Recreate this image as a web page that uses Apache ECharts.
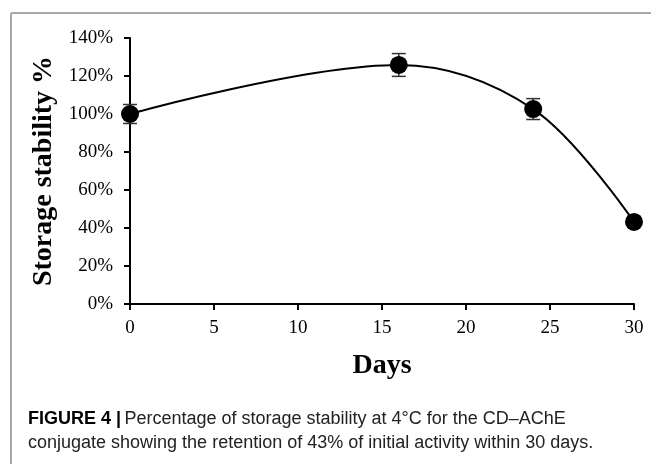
<!DOCTYPE html>
<html>
<head>
<meta charset="utf-8">
<script src="https://cdn.jsdelivr.net/npm/echarts@6/dist/echarts.min.js"></script>
<style>html,body{margin:0;padding:0;background:#fff;}#c{width:651px;height:464px;}</style>
</head>
<body>
<div id="c"></div>
<script>
var days = [0, 16, 24, 30];
var stability = [100, 125.8, 102.6, 43.2];
var errors = [5, 6, 5.5, 1];
var xTicks = [0, 5, 10, 15, 20, 25, 30];
var yTicks = [0, 20, 40, 60, 80, 100, 120, 140];
var xTitle = 'Days';
var yTitle = 'Storage stability %';
var captionBold = 'FIGURE 4 |';
var captionLine1 = 'Percentage of storage stability at 4°C for the CD–AChE';
var captionLine2 = 'conjugate showing the retention of 43% of initial activity within 30 days.';

var chart = echarts.init(document.getElementById('c'), null, {renderer: 'canvas'});
var lineData = days.map(function (d, i) { return [d, stability[i]]; });
var errData = days.map(function (d, i) { return [d, stability[i] - errors[i], stability[i] + errors[i]]; });
var serif = 'Liberation Serif';

chart.setOption({
  animation: false,
  backgroundColor: '#fff',
  grid: {left: 130, right: 17, top: 38, bottom: 160, containLabel: false},
  xAxis: {
    type: 'value', min: xTicks[0], max: xTicks[xTicks.length - 1], interval: 5,
    name: xTitle, nameLocation: 'middle', nameGap: 48,
    nameTextStyle: {fontFamily: serif, fontWeight: 'bold', fontSize: 28, color: '#000'},
    axisLine: {show: true, onZero: false, lineStyle: {color: '#000', width: 2}},
    axisTick: {show: true, inside: false, length: 6, lineStyle: {color: '#000', width: 2}},
    axisLabel: {fontFamily: serif, fontSize: 19, color: '#000', margin: 15},
    splitLine: {show: false}
  },
  yAxis: {
    type: 'value', min: yTicks[0], max: yTicks[yTicks.length - 1], interval: 20,
    name: yTitle, nameLocation: 'middle', nameGap: 69, nameRotate: 90,
    nameTextStyle: {fontFamily: serif, fontWeight: 'bold', fontSize: 28, color: '#000'},
    axisLine: {show: true, onZero: false, lineStyle: {color: '#000', width: 2}},
    axisTick: {show: true, inside: false, length: 6, lineStyle: {color: '#000', width: 2}},
    axisLabel: {fontFamily: serif, fontSize: 19, color: '#000', margin: 17, formatter: '{value}%'},
    splitLine: {show: false}
  },
  series: [
    {
      type: 'custom',
      data: errData,
      z: 1,
      renderItem: function (params, api) {
        var x = api.value(0);
        var lo = api.coord([x, api.value(1)]);
        var hi = api.coord([x, api.value(2)]);
        var hw = 7;
        var st = {stroke: '#333', lineWidth: 1.5};
        return {
          type: 'group',
          children: [
            {type: 'line', shape: {x1: lo[0], y1: lo[1], x2: hi[0], y2: hi[1]}, style: st},
            {type: 'line', shape: {x1: lo[0] - hw, y1: lo[1], x2: lo[0] + hw, y2: lo[1]}, style: st},
            {type: 'line', shape: {x1: hi[0] - hw, y1: hi[1], x2: hi[0] + hw, y2: hi[1]}, style: st}
          ]
        };
      }
    },
    {
      type: 'line',
      data: lineData,
      smooth: 0.35,
      z: 3,
      symbol: 'circle',
      symbolSize: 18,
      itemStyle: {color: '#000'},
      lineStyle: {color: '#000', width: 2}
    }
  ],
  graphic: [
    {type: 'line', shape: {x1: 11, y1: 13, x2: 651, y2: 13}, style: {stroke: '#a8a8a8', lineWidth: 2}},
    {type: 'line', shape: {x1: 11, y1: 13, x2: 11, y2: 464}, style: {stroke: '#a8a8a8', lineWidth: 2}},
    {
      type: 'text', left: 28, top: 410,
      style: {
        text: '{b|' + captionBold + '} {r|' + captionLine1 + '}\n{r|' + captionLine2 + '}',
        rich: {
          b: {fontFamily: 'Liberation Sans', fontWeight: 'bold', fontSize: 18, fill: '#000', lineHeight: 24},
          r: {fontFamily: 'Liberation Sans', fontSize: 18, fill: '#222', lineHeight: 24}
        }
      }
    }
  ]
});
</script>
</body>
</html>
